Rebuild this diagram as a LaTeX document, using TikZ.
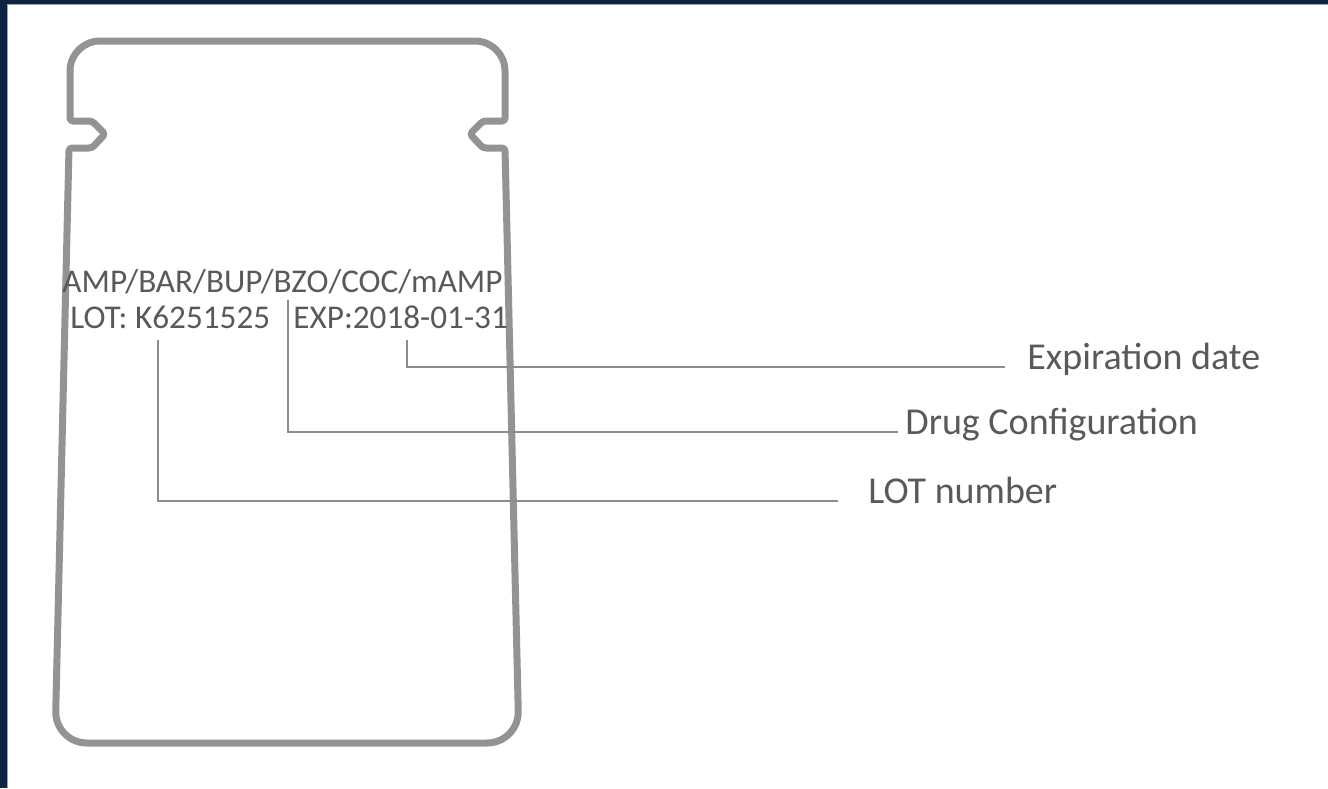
\documentclass[tikz,border=0pt]{standalone}
\usepackage{fontspec}
\setmainfont{Carlito}
\usetikzlibrary{positioning}
\definecolor{navy}{RGB}{16,34,65}
\definecolor{edgegrey}{RGB}{160,162,166}
\definecolor{baggrey}{RGB}{147,147,147}
\definecolor{textgrey}{RGB}{88,89,91}
\definecolor{leadgrey}{RGB}{140,140,140}
\tikzset{
  bagline/.style={draw=baggrey, line width=3.5pt, line join=round},
  leader/.style={draw=leadgrey, line width=0.6pt},
  printtext/.style={font=\fontsize{16.6}{20}\selectfont, text=textgrey, inner sep=0pt},
  tag/.style={font=\fontsize{19}{22}\selectfont, text=textgrey, inner sep=0pt}
}
\begin{document}
\begin{tikzpicture}[x=0.5pt,y=-0.5pt]
  \useasboundingbox (0,0) rectangle (1328,788);
  % frame
  \fill[navy] (0,0) rectangle (7,788);
  \fill[navy] (0,0) rectangle (1328,4);
  \draw[edgegrey,line width=0.6pt] (7.6,788) -- (7.6,4.6) -- (1328,4.6);

  % pouch outline
  \draw[bagline]
    (69,148) [rounded corners=16pt] -- (55,743) -- (519,743)
    [rounded corners=1.5pt] -- (505,148) -- (483,148) -- (470,134) -- (483,121) -- (505,121)
    [rounded corners=15pt] -- (505,41) -- (70,41)
    [rounded corners=1.5pt] -- (70,121) -- (92,121) -- (105,134) -- (92,148) -- cycle;

  % printed text
  \node[printtext,anchor=base west] (drugs) at (62,292) {AMP/BAR/BUP/BZO/COC/mAMP};
  \node[printtext,anchor=base west] (lot) at (70,328) {LOT: K6251525};
  \node[printtext,anchor=base west] (exp) at (293,328) {EXP:2018-01-31};

  % labels
  \node[tag,anchor=base west] (explabel) at (1027,369) {Expiration date};
  \node[tag,anchor=base west] (druglabel) at (905,434) {Drug Configuration};
  \node[tag,anchor=base west] (lotlabel) at (868,503) {LOT number};

  \coordinate (exppin) at (407,340);
  \coordinate (drugpin) at (288,300);
  \coordinate (lotpin) at (158,340);

  \draw[leader] (exppin) |- ([xshift=-11pt,yshift=1pt]explabel.base west);
  \draw[leader] (drugpin) |- ([xshift=-3.5pt,yshift=1pt]druglabel.base west);
  \draw[leader] (lotpin) |- ([xshift=-15pt,yshift=1pt]lotlabel.base west);
\end{tikzpicture}
\end{document}
